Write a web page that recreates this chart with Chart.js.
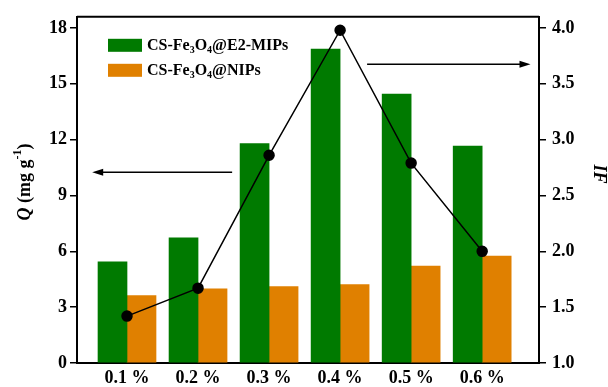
<!DOCTYPE html>
<html>
<head>
<meta charset="utf-8">
<script src="https://cdn.jsdelivr.net/npm/chart.js@4/dist/chart.umd.min.js"></script>
<style>
  html, body { margin: 0; padding: 0; background: #fff; }
  #wrap { width: 608px; height: 387px; }
</style>
</head>
<body>
<div id="wrap"><canvas id="qChart"></canvas></div>
<script>
// crosslinker concentration (%) and the bar / line values
const concentrations = [0.1, 0.2, 0.3, 0.4, 0.5, 0.6];
const tickLabels = ['0.1 %', '0.2 %', '0.3 %', '0.4 %', '0.5 %', '0.6 %'];
const mipsQ = [5.43, 6.72, 11.79, 16.86, 14.45, 11.66];
const nipsQ = [3.62, 3.98, 4.10, 4.21, 5.21, 5.75];
const imprintFactor = [1.42, 1.67, 2.86, 3.98, 2.79, 2.00];
// legend names, _n marks a subscript
const seriesNames = ['CS-Fe_3O_4@E2-MIPs', 'CS-Fe_3O_4@NIPs'];
const seriesColors = ['#007a00', '#e08000'];

// arrows pointing to each axis, given in data units
const arrows = [
  { axis: 'yQ', y: 10.25, from: 0.248, to: 0.051 },
  { axis: 'yIF', y: 3.675, from: 0.438, to: 0.668 }
];

const serif = '"Liberation Serif", "Times New Roman", serif';
Chart.defaults.color = '#000';
Chart.defaults.font.family = serif;

function splitSub(name) {
  // 'Fe_3O_4' -> [{t:'Fe'},{t:'3',sub:true},{t:'O'},...]
  const parts = [];
  name.split(/(_\d)/).forEach(s => {
    if (!s) return;
    if (s[0] === '_') parts.push({ t: s.slice(1), sub: true });
    else parts.push({ t: s });
  });
  return parts;
}

function drawParts(ctx, x, y, parts, size) {
  let cx = x;
  parts.forEach(p => {
    if (p.sub) {
      ctx.font = 'bold ' + Math.round(size * 0.65) + 'px ' + serif;
      ctx.fillText(p.t, cx, y + size * 0.3);
    } else if (p.sup) {
      ctx.font = 'bold ' + Math.round(size * 0.65) + 'px ' + serif;
      ctx.fillText(p.t, cx, y - size * 0.4);
    } else {
      ctx.font = (p.italic ? 'italic ' : '') + 'bold ' + size + 'px ' + serif;
      ctx.fillText(p.t, cx, y);
    }
    cx += ctx.measureText(p.t).width;
  });
  return cx - x;
}

function measureParts(ctx, parts, size) {
  ctx.save();
  ctx.globalAlpha = 0;
  const w = drawParts(ctx, 0, 0, parts, size);
  ctx.restore();
  return w;
}

const decorations = {
  id: 'decorations',
  afterDatasetsDraw(chart) {
    const ctx = chart.ctx;
    const area = chart.chartArea;
    const xs = chart.scales.x;
    ctx.save();
    ctx.fillStyle = '#000';
    ctx.strokeStyle = '#000';

    // top frame line
    ctx.lineWidth = 2;
    ctx.beginPath();
    ctx.moveTo(area.left, area.top);
    ctx.lineTo(area.right, area.top);
    ctx.stroke();

    // arrows
    arrows.forEach(a => {
      const y = chart.scales[a.axis].getPixelForValue(a.y);
      const x0 = xs.getPixelForValue(a.from);
      const x1 = xs.getPixelForValue(a.to);
      const dir = Math.sign(x1 - x0);
      ctx.lineWidth = 1.5;
      ctx.beginPath();
      ctx.moveTo(x0, y);
      ctx.lineTo(x1 - dir * 8, y);
      ctx.stroke();
      ctx.beginPath();
      ctx.moveTo(x1, y);
      ctx.lineTo(x1 - dir * 11, y - 3.5);
      ctx.lineTo(x1 - dir * 11, y + 3.5);
      ctx.closePath();
      ctx.fill();
    });

    // legend
    ctx.textBaseline = 'middle';
    ctx.textAlign = 'left';
    seriesNames.forEach((name, i) => {
      const bx = area.left + 31;
      const by = area.top + 22 + i * 25;
      ctx.fillStyle = seriesColors[i];
      ctx.fillRect(bx, by, 34, 13);
      ctx.fillStyle = '#000';
      drawParts(ctx, bx + 39, by + 7, splitSub(name), 16);
    });

    // left axis title, rotated
    const qTitle = [{ t: 'Q', italic: true }, { t: ' (mg g' }, { t: '-1', sup: true }, { t: ')' }];
    ctx.save();
    ctx.translate(area.left - 52, 182);
    ctx.rotate(-Math.PI / 2);
    const w = measureParts(ctx, qTitle, 18);
    drawParts(ctx, -w / 2, 0, qTitle, 18);
    ctx.restore();

    // right axis title
    ctx.save();
    ctx.translate(area.right + 60, 174);
    ctx.rotate(Math.PI / 2);
    ctx.textAlign = 'center';
    ctx.font = 'italic bold 18px ' + serif;
    ctx.fillText('IF', 0, 0);
    ctx.restore();

    ctx.restore();
  }
};

const barData = vals => concentrations.map((c, i) => ({ x: c, y: vals[i] }));

new Chart(document.getElementById('qChart').getContext('2d'), {
  type: 'bar',
  data: {
    datasets: [
      {
        type: 'line',
        label: 'IF',
        data: barData(imprintFactor),
        yAxisID: 'yIF',
        borderColor: '#000',
        borderWidth: 1.5,
        pointRadius: 5,
        pointBackgroundColor: '#000',
        pointBorderColor: '#000',
        fill: false,
        order: 0
      },
      {
        label: 'CS-Fe₃O₄@E2-MIPs',
        data: barData(mipsQ),
        yAxisID: 'yQ',
        backgroundColor: seriesColors[0],
        barThickness: 29,
        order: 1
      },
      {
        label: 'CS-Fe₃O₄@NIPs',
        data: barData(nipsQ),
        yAxisID: 'yQ',
        backgroundColor: seriesColors[1],
        barThickness: 29,
        order: 1
      }
    ]
  },
  options: {
    responsive: true,
    maintainAspectRatio: false,
    animation: false,
    layout: { padding: { top: 16, left: 0, right: 0, bottom: 0 } },
    plugins: {
      legend: { display: false },
      tooltip: { enabled: false }
    },
    scales: {
      x: {
        type: 'linear',
        offset: false,
        min: 0.0296,
        max: 0.68,
        grid: { display: false },
        border: { display: true, color: '#000', width: 2 },
        afterBuildTicks: axis => { axis.ticks = concentrations.map(v => ({ value: v })); },
        afterFit: s => { s.height = 24; },
        ticks: {
          autoSkip: false,
          maxRotation: 0,
          padding: -3,
          font: { size: 18, weight: 'bold' },
          callback: (v, i) => tickLabels[i]
        }
      },
      yQ: {
        position: 'left',
        min: 0,
        max: 18.6,
        grid: { drawOnChartArea: false, color: '#000', lineWidth: 1.5, tickLength: 7 },
        border: { color: '#000', width: 2 },
        afterFit: s => { s.width = 77; },
        ticks: {
          stepSize: 3,
          includeBounds: false,
          padding: 3,
          font: { size: 18, weight: 'bold' }
        }
      },
      yIF: {
        position: 'right',
        min: 1,
        max: 4.1,
        grid: { drawOnChartArea: false, color: '#000', lineWidth: 1.5, tickLength: 7 },
        border: { color: '#000', width: 2 },
        afterFit: s => { s.width = 69; },
        ticks: {
          stepSize: 0.5,
          includeBounds: false,
          padding: 6,
          font: { size: 18, weight: 'bold' },
          callback: v => v.toFixed(1)
        }
      }
    }
  },
  plugins: [decorations]
});
</script>
</body>
</html>
